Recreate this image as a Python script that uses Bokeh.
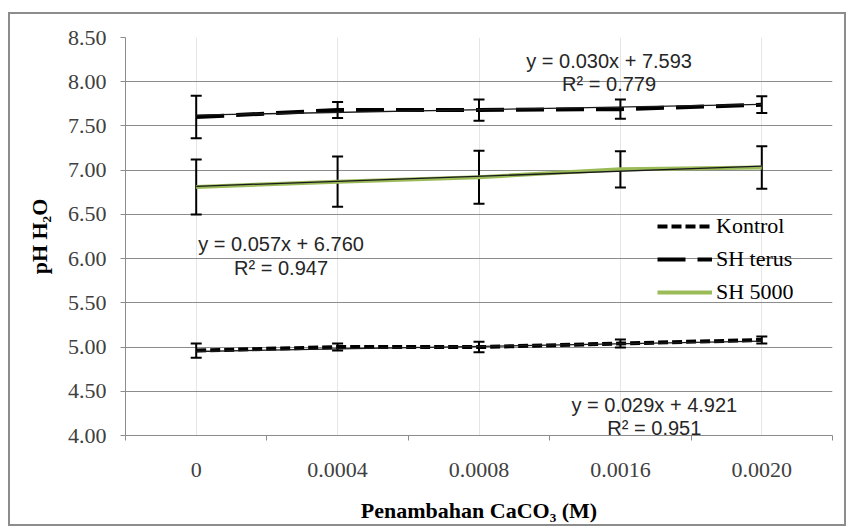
from bokeh.plotting import figure
from bokeh.models import (Range1d, LinearAxis, FixedTicker, NumeralTickFormatter,
                          Whisker, TeeHead, ColumnDataSource, Legend, LegendItem, Label)
from bokeh.embed import file_html
from bokeh.resources import INLINE

# ---------------- data ----------------
categories = ["0", "0.0004", "0.0008", "0.0016", "0.0020"]
y_ticks = [4.0, 4.5, 5.0, 5.5, 6.0, 6.5, 7.0, 7.5, 8.0, 8.5]

kontrol = [4.96, 5.00, 5.00, 5.04, 5.08]
kontrol_err = [0.08, 0.04, 0.06, 0.045, 0.04]
sh_terus = [7.60, 7.68, 7.68, 7.69, 7.74]
sh_terus_err = [0.24, 0.09, 0.12, 0.11, 0.095]
sh_5000 = [6.81, 6.87, 6.92, 7.01, 7.03]
sh_5000_err = [0.31, 0.285, 0.30, 0.205, 0.24]

series_names = ["Kontrol", "SH terus", "SH 5000"]
trend_slope = [0.029, 0.030, 0.057]
trend_intercept = [4.921, 7.593, 6.760]
r_squared = [0.951, 0.779, 0.947]

# ---------------- figure ----------------
idx = list(range(1, len(categories) + 1))
bounds = [i - 0.5 for i in idx] + [idx[-1] + 0.5]

p = figure(width=838, height=514, x_range=Range1d(0.5, 5.5), y_range=Range1d(4.0, 8.5),
           output_backend="svg", toolbar_location=None, x_axis_location=None,
           min_border_left=115, min_border_right=16, min_border_top=23, min_border_bottom=93)
p.outline_line_color = None
p.background_fill_color = "white"
p.border_fill_color = "white"
p.styles = {"border": "2px solid #8c8c8c", "margin-left": "8px", "margin-top": "12px"}

GRAY = "#8c8c8c"
SERIF = "Liberation Serif"
SANS = "Liberation Sans"

# y axis
yax = p.yaxis[0]
yax.ticker = FixedTicker(ticks=y_ticks)
yax.formatter = NumeralTickFormatter(format="0.00")
yax.major_label_text_font = SERIF
yax.major_label_text_font_size = "22px"
yax.major_label_text_color = "#404040"
yax.axis_line_color = GRAY
yax.major_tick_line_color = GRAY
yax.major_tick_out = 5
yax.major_tick_in = 0
yax.minor_tick_line_color = None
yax.major_label_standoff = 14
yax.axis_label = "pH H\u2082O"
yax.axis_label_text_font = SERIF
yax.axis_label_text_font_style = "bold"
yax.axis_label_text_font_size = "22px"
yax.axis_label_text_color = "black"
yax.axis_label_standoff = 13

p.ygrid.ticker = FixedTicker(ticks=y_ticks)
p.ygrid.grid_line_color = GRAY
p.ygrid.grid_line_width = 1

# x axis: tick marks at category boundaries
xtick_axis = LinearAxis(ticker=FixedTicker(ticks=bounds),
                        major_label_overrides={b: "" for b in bounds},
                        major_label_text_font_size="1px", major_label_standoff=0,
                        axis_line_color=GRAY, major_tick_line_color=GRAY,
                        major_tick_out=5, major_tick_in=0, minor_tick_line_color=None)
p.add_layout(xtick_axis, "below")

# x axis: category labels at centres
xlab_axis = LinearAxis(ticker=FixedTicker(ticks=idx),
                       major_label_overrides={i: c for i, c in zip(idx, categories)},
                       axis_line_color=None, major_tick_line_color=None,
                       minor_tick_line_color=None, major_label_standoff=16)
xlab_axis.major_label_text_font = SERIF
xlab_axis.major_label_text_font_size = "22px"
xlab_axis.major_label_text_color = "#404040"
xlab_axis.axis_label = "Penambahan CaCO\u2083 (M)"
xlab_axis.axis_label_text_font = SERIF
xlab_axis.axis_label_text_font_style = "bold"
xlab_axis.axis_label_text_font_size = "22px"
xlab_axis.axis_label_text_color = "black"
xlab_axis.axis_label_standoff = 18
p.add_layout(xlab_axis, "below")

# ---------------- series ----------------
values = [kontrol, sh_terus, sh_5000]
errors = [kontrol_err, sh_terus_err, sh_5000_err]
colors = ["black", "black", "#9bbb59"]
dashes = ["10 4", "28 12", "solid"]

renderers = []
for vals, col, dash in zip(values, colors, dashes):
    r = p.line(idx, vals, line_color=col, line_width=4, line_dash=dash)
    renderers.append(r)

# trend lines
for a, b in zip(trend_slope, trend_intercept):
    p.line([idx[0], idx[-1]], [a * idx[0] + b, a * idx[-1] + b], line_color="#1a1a1a", line_width=1.3)

# error bars
for vals, errs in zip(values, errors):
    src = ColumnDataSource(dict(x=idx, upper=[v + e for v, e in zip(vals, errs)],
                                lower=[v - e for v, e in zip(vals, errs)]))
    w = Whisker(base="x", upper="upper", lower="lower", source=src,
                line_color="black", line_width=2,
                upper_head=TeeHead(size=11, line_width=2, line_color="black"),
                lower_head=TeeHead(size=11, line_width=2, line_color="black"))
    p.add_layout(w)

# equation labels
eq_pos = [(4.24, 4.35, 4.08), (3.92, 8.23, 7.97), (1.60, 6.16, 5.89)]
for (x, y1, y2), a, b, r2 in zip(eq_pos, trend_slope, trend_intercept, r_squared):
    p.add_layout(Label(x=x, y=y1, text=f"y = {a:.3f}x + {b:.3f}", text_align="center",
                       text_baseline="middle", text_font=SANS, text_font_size="20px",
                       text_color="#262626"))
    p.add_layout(Label(x=x, y=y2, text=f"R\u00b2 = {r2:.3f}", text_align="center",
                       text_baseline="middle", text_font=SANS, text_font_size="20px",
                       text_color="#262626"))

# legend
legend = Legend(items=[LegendItem(label=n, renderers=[r]) for n, r in zip(series_names, renderers)],
                location=(532, 130), glyph_width=55, glyph_height=22, label_height=22,
                spacing=7, label_standoff=4, padding=0, margin=0,
                border_line_color=None, background_fill_alpha=0,
                label_text_font=SERIF, label_text_font_size="22px", label_text_color="black")
p.add_layout(legend)

open("out.html", "w").write(file_html(p, INLINE))
